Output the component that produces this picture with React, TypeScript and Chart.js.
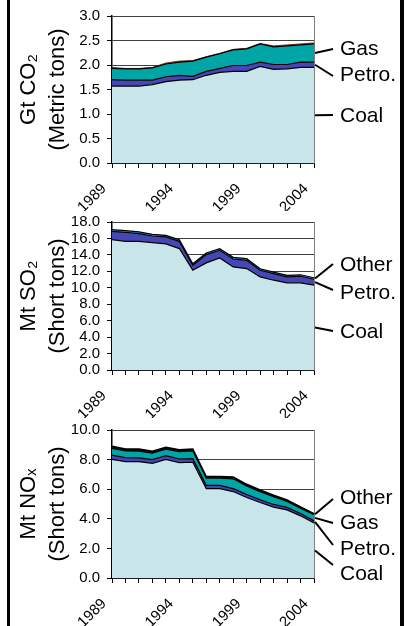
import React, { useEffect, useRef } from 'react';
import { Chart, registerables } from 'chart.js';

Chart.register(...registerables);

const years = ['1989', '1990', '1991', '1992', '1993', '1994', '1995', '1996', '1997', '1998', '1999', '2000', '2001', '2002', '2003', '2004'];

// CO2 (Gt, metric tons)
const co2Coal = [1.57, 1.57, 1.57, 1.6, 1.66, 1.69, 1.7, 1.79, 1.85, 1.87, 1.87, 1.97, 1.91, 1.92, 1.95, 1.95];
const co2Petro = [0.13, 0.12, 0.12, 0.09, 0.1, 0.1, 0.07, 0.08, 0.08, 0.12, 0.12, 0.09, 0.1, 0.09, 0.11, 0.11];
const co2Gas = [0.23, 0.23, 0.23, 0.25, 0.26, 0.27, 0.31, 0.29, 0.3, 0.32, 0.34, 0.37, 0.36, 0.38, 0.35, 0.37];
const co2Other = [0.02, 0.01, 0.01, 0.01, 0.02, 0.02, 0.01, 0.01, 0.01, 0.01, 0.01, 0.01, 0.02, 0.02, 0.02, 0.02];

// SO2 (Mt, short tons)
const so2Coal = [15.86, 15.65, 15.65, 15.5, 15.33, 14.77, 12.14, 13.03, 13.63, 12.54, 12.34, 11.33, 10.92, 10.6, 10.6, 10.32];
const so2Petro = [1.01, 1.1, 0.94, 0.8, 0.85, 0.88, 0.6, 1.0, 0.93, 0.96, 1.0, 0.8, 0.8, 0.73, 0.8, 0.72];
const so2Other = [0.2, 0.2, 0.2, 0.2, 0.2, 0.2, 0.18, 0.2, 0.2, 0.2, 0.2, 0.18, 0.18, 0.18, 0.18, 0.18];

// NOx (Mt, short tons)
const noxCoal = [8.02, 7.86, 7.86, 7.75, 8.02, 7.8, 7.82, 6.04, 6.04, 5.84, 5.44, 5.1, 4.79, 4.6, 4.2, 3.71];
const noxPetro = [0.28, 0.27, 0.26, 0.25, 0.25, 0.24, 0.24, 0.22, 0.22, 0.2, 0.2, 0.19, 0.18, 0.17, 0.16, 0.15];
const noxGas = [0.46, 0.45, 0.45, 0.43, 0.43, 0.5, 0.52, 0.48, 0.48, 0.66, 0.58, 0.55, 0.53, 0.4, 0.36, 0.41];
const noxOther = [0.15, 0.14, 0.14, 0.13, 0.14, 0.13, 0.13, 0.12, 0.12, 0.12, 0.11, 0.11, 0.1, 0.1, 0.09, 0.08];

const W = 409;
const H = 626;
const FONT = "'Liberation Sans', Arial, sans-serif";

const COAL = '#C8E6EA';
const PETRO = '#4646B4';
const GAS = '#00A6A6';

type Lab = { text: string; ds: number; ty: number; ey: number };

type PanelDef = {
  title: string[];
  max: number;
  step: number;
  top: number;
  bottom: number;
  series: { name: string; data: number[]; fill: string; border: string; bw: number }[];
  labels: Lab[];
};

const panels: PanelDef[] = [
  {
    title: ['Gt CO\u2082', '(Metric tons)'],
    max: 3,
    step: 0.5,
    top: 15,
    bottom: 163,
    series: [
      { name: 'Coal', data: co2Coal, fill: COAL, border: '#000', bw: 1.2 },
      { name: 'Petro.', data: co2Petro, fill: PETRO, border: '#000', bw: 1.2 },
      { name: 'Gas', data: co2Gas, fill: GAS, border: '#000', bw: 1.2 },
      { name: 'Other', data: co2Other, fill: '#B03A2A', border: '#8B2E1E', bw: 1 },
    ],
    labels: [
      { text: 'Gas', ds: 2, ty: 49, ey: 49 },
      { text: 'Petro.', ds: 1, ty: 75, ey: 76 },
      { text: 'Coal', ds: 0, ty: 116, ey: 115 },
    ],
  },
  {
    title: ['Mt SO\u2082', '(Short tons)'],
    max: 18,
    step: 2,
    top: 222,
    bottom: 370,
    series: [
      { name: 'Coal', data: so2Coal, fill: COAL, border: '#000', bw: 1.2 },
      { name: 'Petro.', data: so2Petro, fill: PETRO, border: '#000', bw: 1.2 },
      { name: 'Other', data: so2Other, fill: '#2EA8E8', border: '#000', bw: 1.2 },
    ],
    labels: [
      { text: 'Other', ds: 2, ty: 265, ey: 264 },
      { text: 'Petro.', ds: 1, ty: 293, ey: 290 },
      { text: 'Coal', ds: 0, ty: 332, ey: 331 },
    ],
  },
  {
    title: ['Mt NO\u2093', '(Short tons)'],
    max: 10,
    step: 2,
    top: 430,
    bottom: 578,
    series: [
      { name: 'Coal', data: noxCoal, fill: COAL, border: '#000', bw: 1.2 },
      { name: 'Petro.', data: noxPetro, fill: PETRO, border: '#000', bw: 1.2 },
      { name: 'Gas', data: noxGas, fill: GAS, border: '#000', bw: 1.2 },
      { name: 'Other', data: noxOther, fill: '#111', border: '#000', bw: 1.5 },
    ],
    labels: [
      { text: 'Other', ds: 3, ty: 498, ey: 499 },
      { text: 'Gas', ds: 2, ty: 523, ey: 523 },
      { text: 'Petro.', ds: 1, ty: 549, ey: 545 },
      { text: 'Coal', ds: 0, ty: 574, ey: 565 },
    ],
  },
];

const PLOT_LEFT = 112;
const PLOT_RIGHT = 314;
const XAXIS_H = 48;
const PAD_LEFT = 4;

function makePlugin(labels: Lab[]) {
  return {
    id: 'sideLabels',
    afterDraw(chart: any) {
      const ctx = chart.ctx;
      const area = chart.chartArea;
      const ys = chart.scales.y;
      const dsets = chart.data.datasets;
      const last = chart.data.labels.length - 1;
      ctx.save();
      ctx.strokeStyle = '#808080';
      ctx.lineWidth = 1;
      ctx.beginPath();
      ctx.moveTo(area.right + 0.5, area.top);
      ctx.lineTo(area.right + 0.5, area.bottom);
      ctx.stroke();

      ctx.font = `21px ${FONT}`;
      ctx.fillStyle = '#000';
      ctx.textAlign = 'left';
      ctx.textBaseline = 'middle';
      labels.forEach((l) => {
        let base = 0;
        for (let i = 0; i < l.ds; i++) base += dsets[i].data[last];
        const mid = base + dsets[l.ds].data[last] / 2;
        const y0 = ys.getPixelForValue(mid);
        ctx.strokeStyle = '#000';
        ctx.lineWidth = 2;
        ctx.beginPath();
        ctx.moveTo(area.right + 1, y0);
        ctx.lineTo(333, l.ey);
        ctx.stroke();
        ctx.fillText(l.text, 340, l.ty);
      });
      ctx.restore();
    },
  };
}

function Panel({ def }: { def: PanelDef }) {
  const ref = useRef<HTMLCanvasElement | null>(null);
  useEffect(() => {
    if (!ref.current) return;
    const datasets = def.series.map((s, i) => ({
      label: s.name,
      data: s.data,
      backgroundColor: s.fill,
      borderColor: s.border,
      borderWidth: s.bw,
      fill: i === 0 ? 'origin' : '-1',
      pointRadius: 0,
      tension: 0,
    }));
    const chart = new Chart(ref.current, {
      type: 'line',
      data: { labels: years, datasets },
      options: {
        animation: false,
        responsive: false,
        devicePixelRatio: 1,
        events: [],
        layout: {
          padding: {
            left: PAD_LEFT,
            right: W - PLOT_RIGHT,
            top: def.top,
            bottom: Math.max(0, H - def.bottom - XAXIS_H),
          },
        },
        plugins: { legend: { display: false }, tooltip: { enabled: false } },
        scales: {
          x: {
            type: 'category',
            offset: false,
            afterFit: (s: any) => {
              s.height = XAXIS_H;
            },
            grid: {
              display: true,
              drawOnChartArea: false,
              drawTicks: true,
              tickLength: 5,
              tickColor: '#000',
              tickWidth: 1,
            },
            border: { display: true, color: '#000', width: 1.5 },
            ticks: {
              autoSkip: false,
              minRotation: 45,
              maxRotation: 45,
              padding: 12,
              labelOffset: -8,
              color: '#000',
              font: { family: FONT, size: 15 },
              callback: (_v: any, i: number) => (i % 5 === 0 ? years[i] : ''),
            },
          },
          y: {
            stacked: true,
            min: 0,
            max: def.max,
            afterFit: (s: any) => {
              s.width = PLOT_LEFT - PAD_LEFT;
            },
            grid: {
              color: '#404040',
              lineWidth: 1,
              tickLength: 5,
              tickColor: '#000',
            },
            border: { display: true, color: '#000', width: 1.5 },
            ticks: {
              stepSize: def.step,
              autoSkip: false,
              padding: 7,
              color: '#000',
              font: { family: FONT, size: 15 },
              callback: (v: any) => Number(v).toFixed(1),
            },
            title: {
              display: true,
              text: def.title,
              color: '#000',
              font: { family: FONT, size: 22, lineHeight: 1.3 },
              padding: { top: 11, bottom: 0 },
            },
          },
        },
      },
      plugins: [makePlugin(def.labels)],
    } as any);
    return () => chart.destroy();
  }, [def]);
  return (
    <canvas
      ref={ref}
      width={W}
      height={H}
      style={{ position: 'absolute', left: 0, top: 0, width: W, height: H }}
    />
  );
}

export default function App() {
  return (
    <div style={{ position: 'absolute', left: 0, top: 0, width: W, height: H, background: '#fff', overflow: 'hidden' }}>
      {panels.map((p, i) => (
        <Panel key={i} def={p} />
      ))}
      <div style={{ position: 'absolute', left: 7, top: 0, width: 3, height: H, background: '#000' }} />
      <div style={{ position: 'absolute', left: 400, top: 0, width: 4, height: H, background: '#000' }} />
    </div>
  );
}
